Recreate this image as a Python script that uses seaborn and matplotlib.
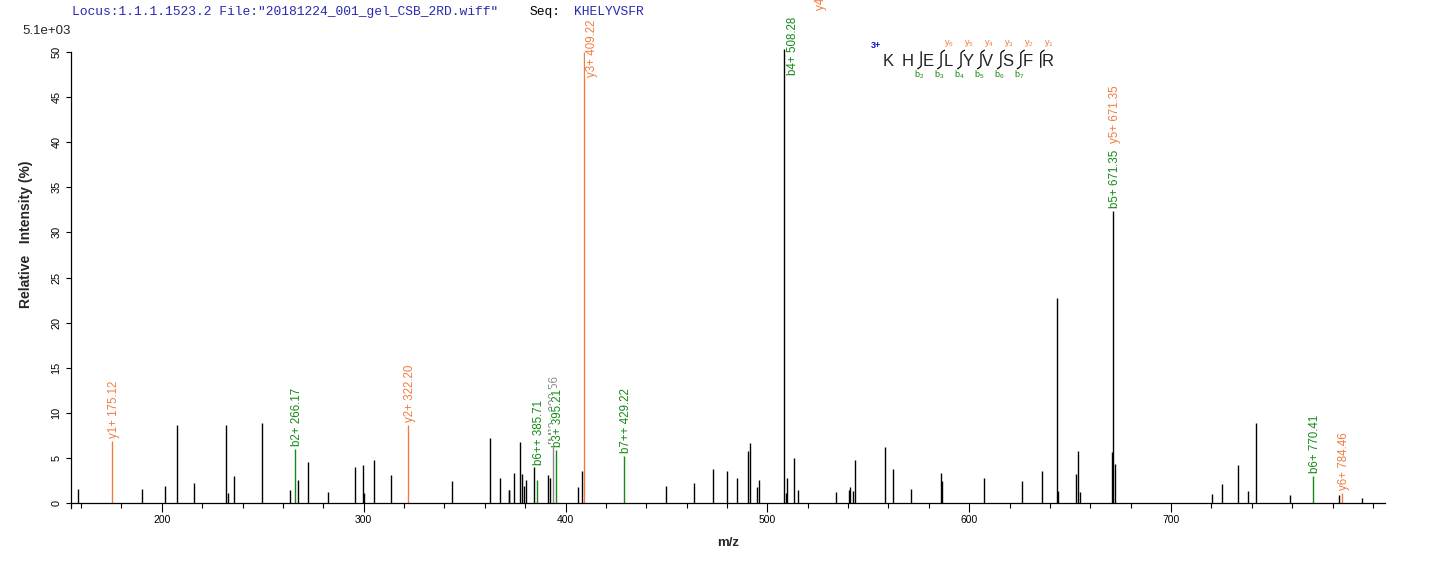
import matplotlib
matplotlib.use("Agg")
import matplotlib.pyplot as plt
import matplotlib.transforms as mtransforms
from matplotlib.lines import Line2D
from matplotlib.ticker import MultipleLocator
import seaborn as sns
import pandas as pd

# ---------------- data ----------------
peak_mz = [158.3, 190.4, 201.4, 207.7, 215.9, 231.8, 232.7, 235.6, 249.6, 263.6,
           267.6, 272.5, 282.5, 295.6, 299.6, 300.0, 305.1, 313.6, 343.9, 362.4,
           367.3, 371.8, 372.2, 374.3, 377.5, 378.3, 379.3, 380.3, 384.4, 391.4,
           392.4, 406.2, 408.2, 449.6, 463.6, 473.2, 480.1, 485.1, 490.2, 491.2,
           495.1, 496.0, 509.0, 509.6, 513.0, 515.0, 534.2, 540.2, 540.7, 542.4,
           543.3, 558.2, 562.2, 571.1, 586.0, 586.4, 607.3, 626.4, 636.2, 643.3,
           644.0, 653.1, 654.0, 655.1, 670.9, 672.4, 720.2, 725.1, 733.1, 738.2,
           742.2, 758.7, 783.3, 794.4]
peak_int = [1.6, 1.6, 1.9, 8.7, 2.25, 8.6, 1.1, 3.0, 8.85, 1.4,
            2.6, 4.6, 1.25, 4.0, 4.25, 1.15, 4.8, 3.15, 2.4, 7.25,
            2.8, 1.4, 1.4, 3.35, 6.8, 3.25, 1.9, 2.6, 4.0, 3.15,
            2.8, 1.8, 3.5, 1.9, 2.25, 3.8, 3.5, 2.8, 5.8, 6.6,
            1.8, 2.6, 1.15, 2.8, 5.0, 1.4, 1.2, 1.45, 1.8, 1.35,
            4.8, 6.2, 3.8, 1.55, 3.35, 2.45, 2.8, 2.45, 3.6, 22.7,
            1.35, 3.2, 5.8, 1.2, 5.6, 4.35, 1.0, 2.1, 4.2, 1.35,
            8.9, 0.9, 0.9, 0.55]

ion_mz = [175.12, 266.17, 322.20, 385.71, 393.60, 395.21, 409.22, 429.22,
          508.28, 671.35, 770.41, 784.46]
ion_int = [6.9, 6.0, 8.7, 2.6, 6.25, 5.9, 50.0, 5.2, 50.3, 32.4, 3.0, 1.1]
ion_kind = ["y", "b", "y", "b", "other", "b", "y", "b", "by", "by", "b", "y"]

label_mz = [175.12, 266.17, 322.20, 385.71, 393.60, 395.21, 409.22, 429.22,
            508.28, 508.28, 671.35, 671.35, 770.41, 784.46]
label_int = [6.9, 6.0, 8.7, 2.6, 6.25, 5.9, 50.0, 5.2, 50.3, 50.3, 32.4, 32.4, 3.0, 1.1]
label_text = ["y1+ 175.12", "b2+ 266.17", "y2+ 322.20", "b6++ 385.71", "[M]3+ 393.56",
              "b3+ 395.21", "y3+ 409.22", "b7++ 429.22", "b4+ 508.28", "y4+ 508.28",
              "b5+ 671.35", "y5+ 671.35", "b6+ 770.41", "y6+ 784.46"]
label_kind = ["y", "b", "y", "b", "other", "b", "y", "b", "b", "y", "b", "y", "b", "y"]

sequence = "KHELYVSFR"
b_seen = [2, 3, 4, 5, 6, 7]
y_seen = [1, 2, 3, 4, 5, 6]
charge_text = "3+"

x_major = [200, 300, 400, 500, 600, 700]
y_ticks = [0, 5, 10, 15, 20, 25, 30, 35, 40, 45, 50]

# ---------------- style ----------------
W, H = 1436, 562
ORANGE = "#F27B3E"
GREEN = "#138A13"
GREY = "#8C8C8C"
BLUE = "#2A2AB0"
kind_color = {"y": ORANGE, "b": GREEN, "other": GREY, "by": "black"}

sns.set_theme(style="white")
plt.rcParams["font.family"] = ["Liberation Sans", "DejaVu Sans"]
plt.rcParams["mathtext.default"] = "regular"

fig = plt.figure(figsize=(W / 100, H / 100), dpi=100)
fig.patch.set_facecolor("white")

# axes placement (pixels): left spine x=71, right end x=1385, y=0 at 503, y=51 at 43
y0_px, per_unit = 503.0, 9.02
ylo, yhi = -0.6, 51.0
ax_bottom = H - (y0_px - ylo * per_unit)
ax_top = H - (y0_px - yhi * per_unit)
ax = fig.add_axes([71 / W, ax_bottom / H, (1385 - 71) / W, (ax_top - ax_bottom) / H])
ax.set_facecolor("white")
ax.set_xlim(155, 806)
ax.set_ylim(ylo, yhi)

df = pd.DataFrame({"mz": peak_mz, "intensity": peak_int})
ax.vlines(df["mz"], 0, df["intensity"], colors="black", lw=1.0, zorder=2)
ions = pd.DataFrame({"mz": ion_mz, "intensity": ion_int, "kind": ion_kind})
for kind, grp in ions.groupby("kind"):
    ax.vlines(grp["mz"], 0, grp["intensity"], colors=kind_color[kind], lw=1.0, zorder=2)

# spines and ticks
for s in ["top", "right"]:
    ax.spines[s].set_visible(False)
for s in ["left", "bottom"]:
    ax.spines[s].set_color("black")
    ax.spines[s].set_linewidth(0.9)
ax.spines["bottom"].set_position(("data", 0))
ax.spines["left"].set_bounds(ylo, 50)
ax.set_xticks(x_major)
ax.xaxis.set_minor_locator(MultipleLocator(20))
ax.set_yticks(y_ticks)
ax.tick_params(axis="x", which="major", direction="out", length=6.5, width=0.8,
               colors="black", labelsize=7.5, pad=2, bottom=True)
ax.tick_params(axis="x", which="minor", direction="out", length=3.8, width=0.8,
               colors="black", bottom=True)
ax.tick_params(axis="y", which="major", direction="out", length=3.8, width=0.8,
               colors="black", labelsize=7.8, pad=3, left=True, labelrotation=90)
for lab in ax.get_yticklabels():
    lab.set_va("center")
ax.grid(False)

ax.set_xlabel("m/z", fontsize=9.5, fontweight="bold", labelpad=8.5)
fig.text(26 / W, 1 - 234 / H, "Relative   Intensity (%)", rotation=90, fontsize=10,
         fontweight="bold", ha="center", va="center")
fig.text(22 / W, 1 - 31 / H, "5.1e+03", fontsize=9.5, ha="left", va="center")

# peak labels
special_offsets = {"b6++ 385.71": (2, 14.5), "y3+ 409.22": (7.5, -25),
                   "b4+ 508.28": (9, -26), "y4+ 508.28": (36.5, 39),
                   "y5+ 671.35": (2, 68)}
for mz, h, txt, kind in zip(label_mz, label_int, label_text, label_kind):
    dx, dy = special_offsets.get(txt, (2, 3))
    tr = mtransforms.offset_copy(ax.transData, fig=fig, x=dx, y=dy, units="dots")
    ax.text(mz, h, txt, transform=tr, rotation=90, ha="center", va="bottom",
            fontsize=8.3, color=kind_color[kind], clip_on=False, zorder=3,
            bbox=dict(facecolor="white", edgecolor="none", pad=0.3))

# title line
fig.text(72 / W, 1 - 12 / H, 'Locus:1.1.1.1523.2 File:"20181224_001_gel_CSB_2RD.wiff"',
         family="Liberation Mono", fontsize=9.4, color=BLUE, ha="left", va="center")
fig.text(530 / W, 1 - 12 / H, "Seq:", family="Liberation Mono", fontsize=9.4,
         color="black", ha="left", va="center")
fig.text(574 / W, 1 - 12 / H, sequence, family="Liberation Mono", fontsize=9.4,
         color=BLUE, ha="left", va="center")

# peptide fragment map
def fp(x, y):
    return (x / W, 1 - y / H)

x_first, x_step, y_letters = 888.0, 19.93, 61.7
fig.text(*fp(876, 46), charge_text, color="#1010C8", fontsize=6.5, fontweight="bold",
         ha="center", va="center")
n = len(sequence)
for i, aa in enumerate(sequence):
    fig.text(*fp(x_first + i * x_step, y_letters), aa, fontsize=12, color="#222222",
             ha="center", va="center")
ytop, ybot = 51.7, 67.3
for k in range(1, n):
    has_b = k in b_seen
    has_y = (n - k) in y_seen
    if not (has_b or has_y):
        continue
    lx = x_first + k * x_step - 6.7
    xs, ys = [], []
    if has_y:
        xs += [lx + 3.5, lx + 1.2]
        ys += [ytop - 1.5, ytop]
    xs += [lx, lx]
    ys += [ytop + (1.5 if has_y else 0), ybot - (1.5 if has_b else 0)]
    if has_b:
        xs += [lx - 1.2, lx - 3.5]
        ys += [ybot, ybot + 1.5]
    fig.add_artist(Line2D([x / W for x in xs], [1 - y / H for y in ys],
                          transform=fig.transFigure, color="black", lw=0.9))
    if has_y:
        fig.text(*fp(lx + 8, 43.5), r"y$_{%d}$" % (n - k), color=ORANGE, fontsize=6.5,
                 ha="center", va="center")
    if has_b:
        fig.text(*fp(lx - 2, 74.5), r"b$_{%d}$" % k, color=GREEN, fontsize=6.5,
                 ha="center", va="center")

fig.savefig("out.png", dpi=100, facecolor="white")
